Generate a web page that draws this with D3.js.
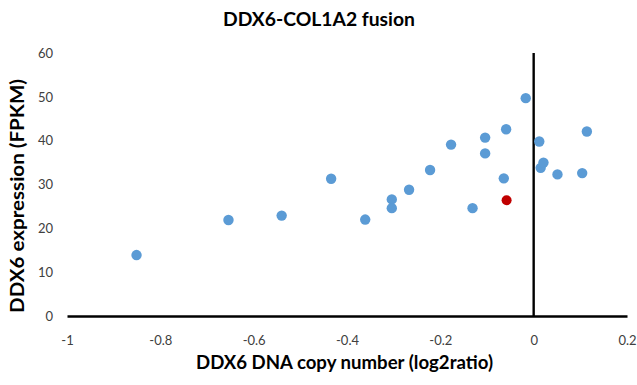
<!DOCTYPE html>
<html>
<head>
<meta charset="utf-8">
<script src="https://cdn.jsdelivr.net/npm/d3@7"></script>
<style>
  body { margin: 0; background: #fff; }
  svg text { font-family: Lato, "Open Sans", sans-serif; }
</style>
</head>
<body>
<div id="chart"></div>
<script>
// copy number vs expression, one sample with the fusion marked red
var copyNumber = [-0.851, -0.654, -0.540, -0.434, -0.361, -0.304, -0.304, -0.267, -0.222, -0.177,
                  -0.131, -0.104, -0.104, -0.064, -0.059, -0.017, 0.012, 0.015, 0.021, 0.051, 0.104, 0.114];
var expression = [13.9, 21.9, 22.9, 31.3, 22.0, 26.6, 24.6, 28.8, 33.3, 39.1,
                  24.6, 40.7, 37.1, 31.4, 42.6, 49.7, 39.8, 33.8, 35.0, 32.3, 32.6, 42.1];
var fusionPoint = [-0.058, 26.4];
var xTicks = [-1, -0.8, -0.6, -0.4, -0.2, 0, 0.2];
var yTicks = [0, 10, 20, 30, 40, 50, 60];

var width = 637, height = 385;
var svg = d3.select("#chart").append("svg").attr("width", width).attr("height", height);

var x = d3.scaleLinear().domain([-1, 0.2]).range([67, 627]);
var y = d3.scaleLinear().domain([0, 60]).range([316, 53]);

// title
svg.append("text").attr("x", 319).attr("y", 26).attr("text-anchor", "middle")
  .style("font-size", "19px").style("font-weight", "bold").attr("fill", "#000")
  .attr("textLength", 192).attr("lengthAdjust", "spacingAndGlyphs")
  .text("DDX6-COL1A2 fusion");

// x axis at y = 0, labels below (plain hyphen like the original)
var xAxis = svg.append("g").attr("transform", "translate(0," + y(0) + ")")
  .call(d3.axisBottom(x).tickValues(xTicks).tickSize(0).tickPadding(20)
    .tickFormat(function(d) { return String(+d.toFixed(1)); }));
xAxis.select(".domain").attr("stroke", "#000").attr("stroke-width", 2.4);
xAxis.selectAll("text").style("font-size", "13px").attr("fill", "#404040").style("font-family", "Lato, sans-serif");

// y labels on the left, vertical axis line at x = 0
var yAxis = svg.append("g").attr("transform", "translate(53,0)")
  .call(d3.axisLeft(y).tickValues(yTicks).tickSize(0).tickPadding(0));
yAxis.select(".domain").remove();
yAxis.selectAll("text").style("font-size", "13px").attr("fill", "#404040").style("font-family", "Lato, sans-serif");

svg.append("line").attr("x1", x(0)).attr("x2", x(0)).attr("y1", y(60)).attr("y2", y(0))
  .attr("stroke", "#000").attr("stroke-width", 2.4);

// axis titles
svg.append("text").attr("x", 344.5).attr("y", 369).attr("text-anchor", "middle")
  .style("font-size", "18px").style("font-weight", "bold").attr("fill", "#000")
  .attr("textLength", 297).attr("lengthAdjust", "spacingAndGlyphs")
  .text("DDX6 DNA copy number (log2ratio)");
svg.append("text").attr("transform", "translate(24,196) rotate(-90)").attr("text-anchor", "middle")
  .style("font-size", "18px").style("font-weight", "bold").attr("fill", "#000")
  .attr("textLength", 234).attr("lengthAdjust", "spacingAndGlyphs")
  .text("DDX6 expression (FPKM)");

var pts = copyNumber.map(function(d, i) { return [d, expression[i]]; });
svg.append("g").selectAll("circle").data(pts).enter().append("circle")
  .attr("cx", function(d) { return x(d[0]); })
  .attr("cy", function(d) { return y(d[1]); })
  .attr("r", 5.2).attr("fill", "#5B9BD5");

svg.append("circle").attr("cx", x(fusionPoint[0])).attr("cy", y(fusionPoint[1]))
  .attr("r", 5).attr("fill", "#C00000");
</script>
</body>
</html>
